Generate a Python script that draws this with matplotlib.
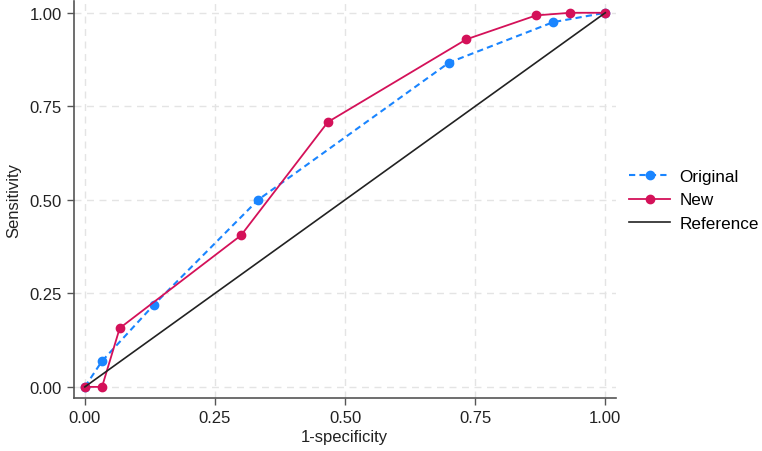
import matplotlib
matplotlib.use("Agg")
import matplotlib.pyplot as plt
import numpy as np

plt.rcParams["font.family"] = ["Liberation Sans", "DejaVu Sans"]

# ROC points
orig_x = [0.0, 0.033, 0.133, 0.333, 0.700, 0.900, 1.0]
orig_y = [0.0, 0.069, 0.220, 0.500, 0.867, 0.975, 1.0]
new_x = [0.0, 0.033, 0.067, 0.300, 0.467, 0.733, 0.867, 0.933, 1.0]
new_y = [0.0, 0.0, 0.157, 0.405, 0.708, 0.929, 0.993, 1.0, 1.0]
ref_x = [0.0, 1.0]
ref_y = [0.0, 1.0]
ticks = [0.0, 0.25, 0.5, 0.75, 1.0]
tick_labels = ["0.00", "0.25", "0.50", "0.75", "1.00"]

blue = "#1a85ff"
red = "#d41159"

fig = plt.figure(figsize=(7.62, 4.52), dpi=100)
ax = fig.add_axes([0.097, 0.117, 0.711, 0.879])

ax.plot(orig_x, orig_y, "o--", color=blue, lw=1.5, ms=6, dashes=(3, 2), label="Original")
ax.plot(new_x, new_y, "o-", color=red, lw=1.3, ms=6, label="New")
ax.plot(ref_x, ref_y, "-", color="#222222", lw=1.2, label="Reference")

ax.set_xlim(-0.021, 1.02)
ax.set_ylim(-0.03, 1.032)
ax.set_xticks(ticks)
ax.set_xticklabels(tick_labels)
ax.set_yticks(ticks)
ax.set_yticklabels(tick_labels)
ax.tick_params(axis="both", direction="out", length=5, width=1, color="#555555", labelsize=12, labelcolor="#222222")
ax.grid(True, linestyle=(0, (5, 4)), color="#e4e4e4", lw=1)
ax.set_axisbelow(True)

for s in ["top", "right"]:
    ax.spines[s].set_visible(False)
for s in ["left", "bottom"]:
    ax.spines[s].set_color("#555555")
    ax.spines[s].set_linewidth(1.2)

ax.set_xlabel("1-specificity", fontsize=12, color="#222222", labelpad=3)
ax.set_ylabel("Sensitivity", fontsize=12, color="#222222", labelpad=6)

ax.legend(loc="center left", bbox_to_anchor=(629 / 762, 1 - 201 / 452), bbox_transform=fig.transFigure,
          frameon=False, fontsize=12.3, borderpad=0, borderaxespad=0,
          handlelength=2.4, handletextpad=0.55, labelspacing=0.5)

fig.savefig("out.png", dpi=100)
